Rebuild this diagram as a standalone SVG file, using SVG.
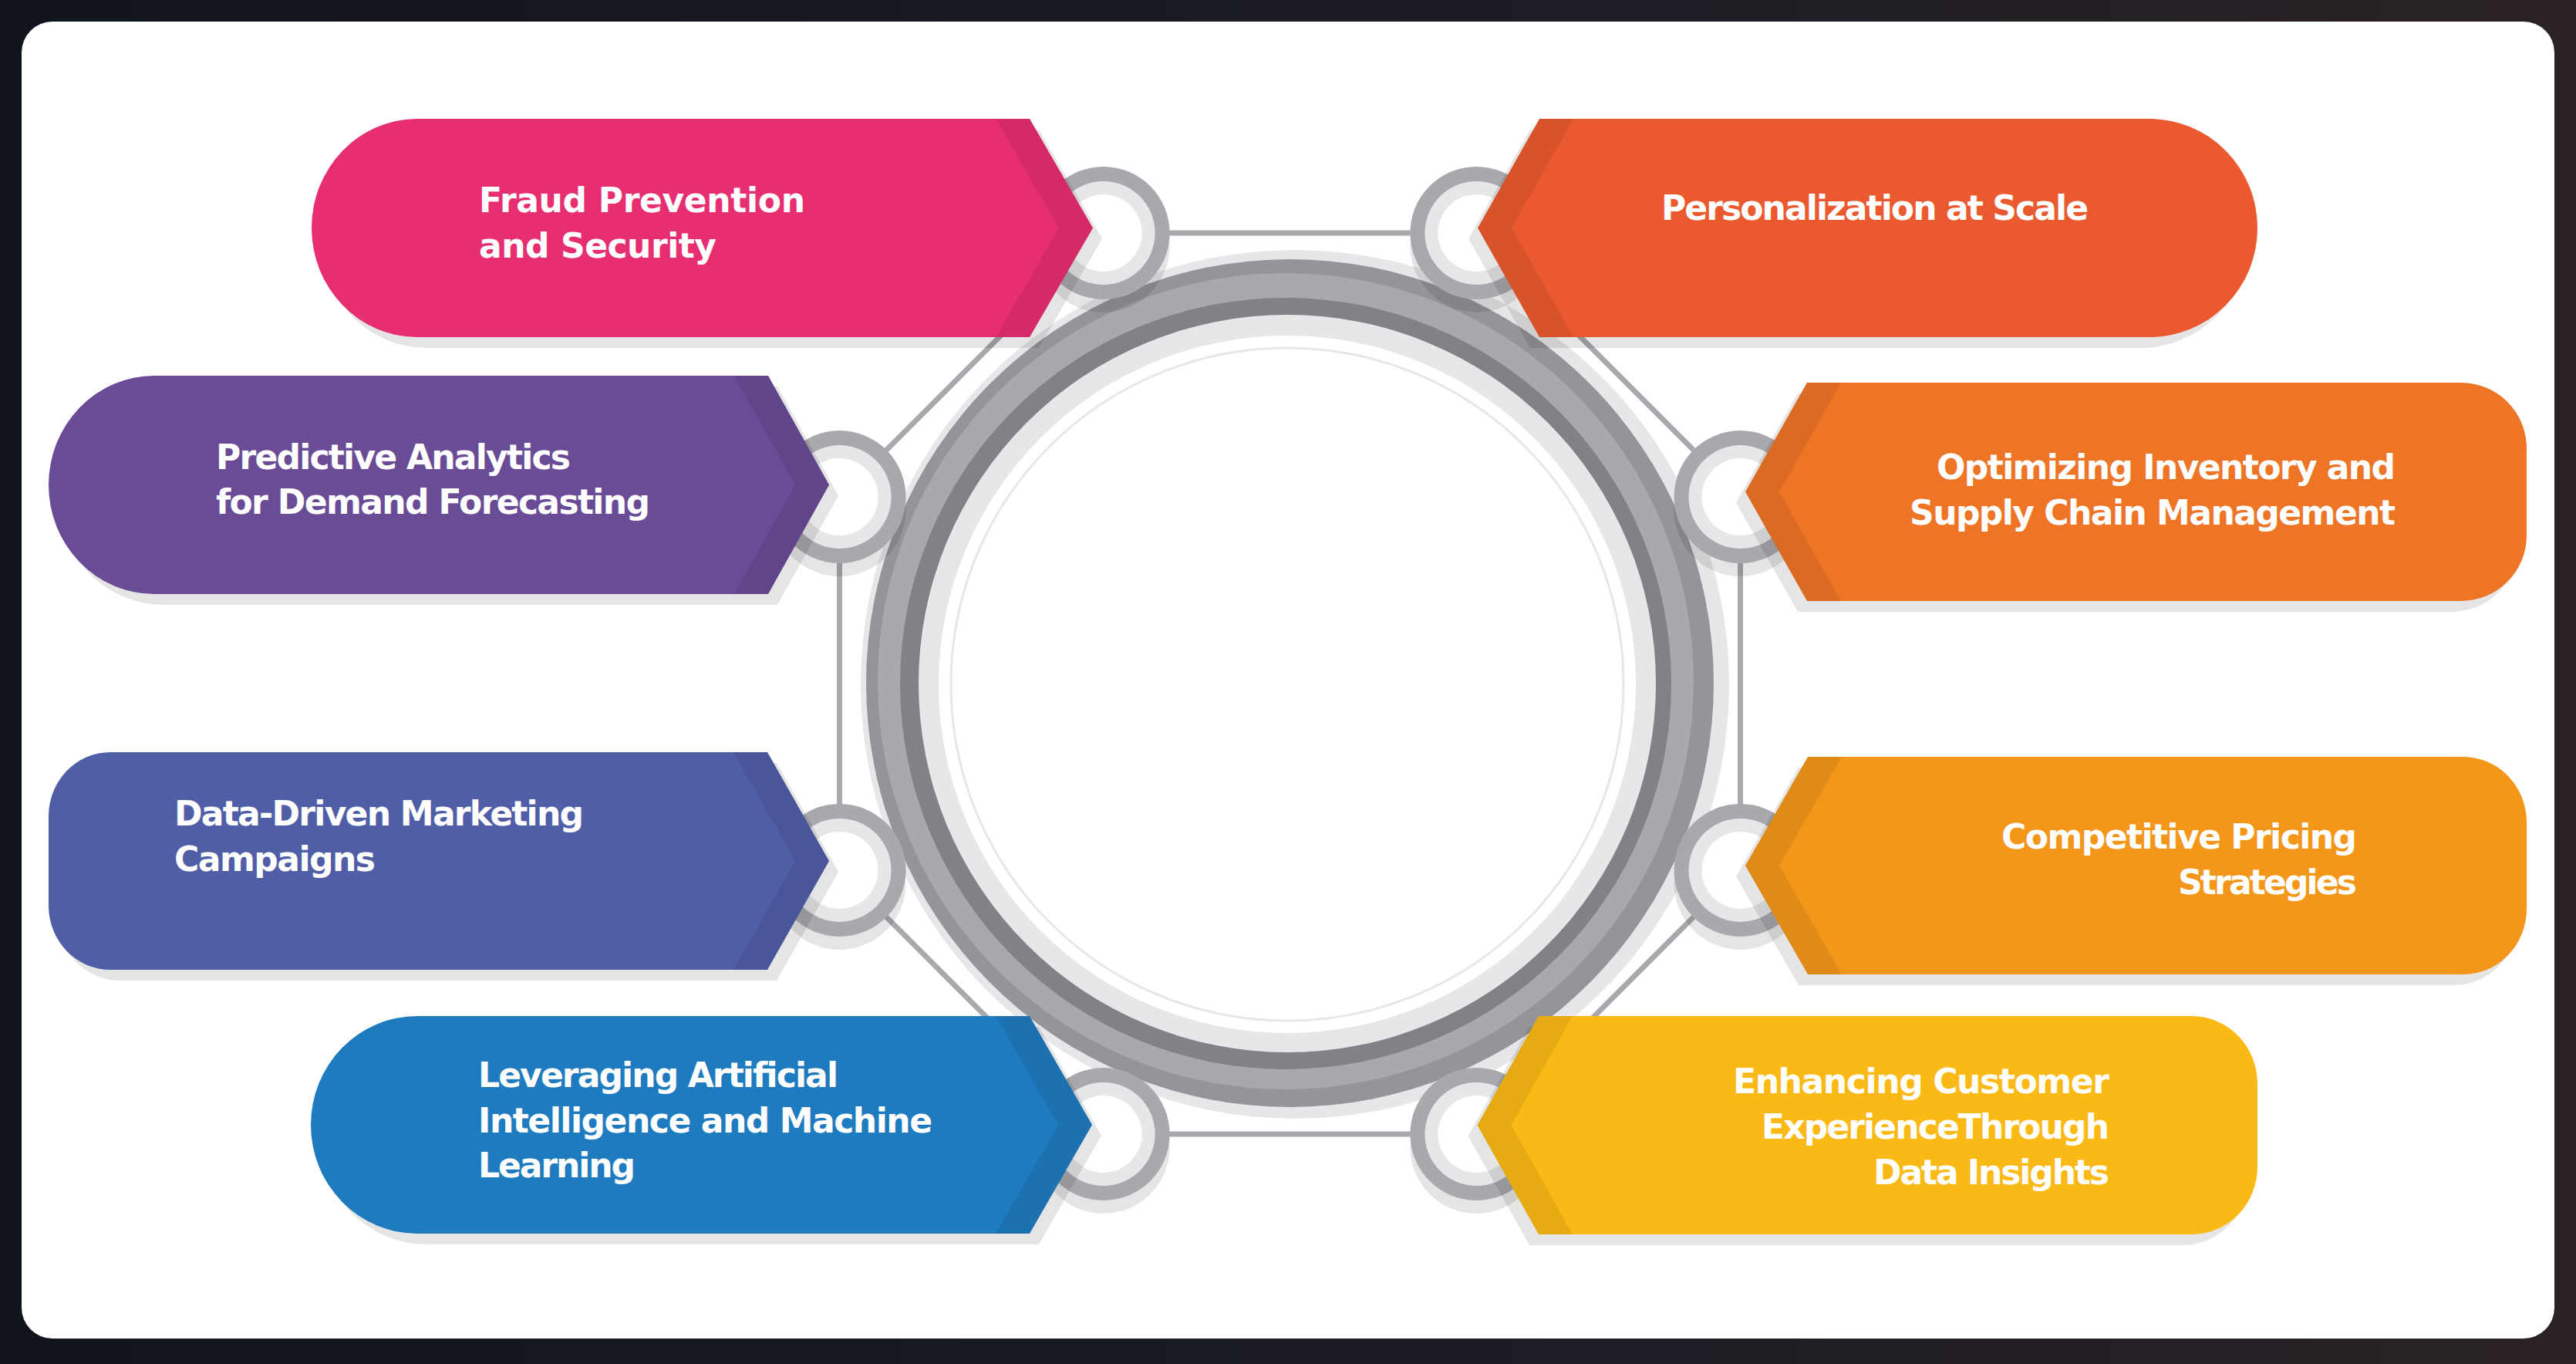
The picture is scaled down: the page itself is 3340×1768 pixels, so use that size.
<svg xmlns="http://www.w3.org/2000/svg" width="3340" height="1768" viewBox="0 0 3340 1768">
<style>
.sh{fill:#000;fill-opacity:0.1}
.band{fill:#000;fill-opacity:0.08}
.lbl{font-family:"DejaVu Sans","Liberation Sans",sans-serif;font-weight:700;font-size:44px;fill:#fff}
.end{text-anchor:end}
.conn{stroke:#a7a9ac;stroke-width:7;fill:none}
</style>
<defs>
<linearGradient id="bg" x1="0" y1="0" x2="1" y2="0">
<stop offset="0" stop-color="#10141d"/>
<stop offset="0.5" stop-color="#1a1b24"/>
<stop offset="1" stop-color="#2a2226"/>
</linearGradient>
<g id="knob">
<circle cx="0" cy="17" r="86" class="sh"/>
<circle r="86" fill="#a7a9ac"/>
<circle r="67" fill="#e6e7e8"/>
<circle r="50" fill="#fff"/>
</g>
</defs>
<rect x="0" y="0" width="3340" height="1768" fill="url(#bg)"/>
<rect x="28" y="28" width="3284" height="1707" rx="40" ry="40" fill="#fff"/>

<g id="hub">
<circle cx="1679" cy="887" r="563" fill="#e6e7e8"/>
<circle cx="1672.5" cy="885.5" r="549.5" fill="#939598"/>
<circle cx="1667" cy="883" r="529" fill="#a7a9ac"/>
<circle cx="1667" cy="886" r="500" fill="#808285"/>
<circle cx="1669" cy="886" r="478" fill="#e6e7e8"/>
<circle cx="1669" cy="887" r="452" fill="#fff"/>
<circle cx="1669" cy="887" r="436" fill="none" stroke="#e6e7e8" stroke-width="3"/>
</g>

<g id="connectors">
<line class="conn" x1="1430.6" y1="302" x2="1914.4" y2="302"/>
<line class="conn" x1="1914.4" y1="302" x2="2256.5" y2="644.1"/>
<line class="conn" x1="2256.5" y1="644.1" x2="2256.5" y2="1127.9"/>
<line class="conn" x1="2256.5" y1="1127.9" x2="1914.4" y2="1470"/>
<line class="conn" x1="1914.4" y1="1470" x2="1430.6" y2="1470"/>
<line class="conn" x1="1430.6" y1="1470" x2="1088.5" y2="1127.9"/>
<line class="conn" x1="1088.5" y1="1127.9" x2="1088.5" y2="644.1"/>
<line class="conn" x1="1088.5" y1="644.1" x2="1430.6" y2="302"/>
</g>

<g id="node-fraud">
<use href="#knob" x="1430.6" y="302"/>
<path class="sh" transform="translate(12,14)" d="M541 154 H1335 L1417 295.5 L1335 437 H541 A137 141.5 0 0 1 541 154 Z"/>
<path fill="#e72e70" d="M541 154 H1335 L1417 295.5 L1335 437 H541 A137 141.5 0 0 1 541 154 Z"/>
<path class="band" d="M1291 154 H1335 L1417 295.5 L1335 437 H1291 L1373 295.5 Z"/>
<text class="lbl" x="621" y="275" textLength="423" lengthAdjust="spacing">Fraud Prevention</text>
<text class="lbl" x="621" y="334" textLength="308" lengthAdjust="spacing">and Security</text>
</g>

<g id="node-predictive">
<use href="#knob" x="1088.5" y="644.1"/>
<path class="sh" transform="translate(12,14)" d="M200 487 H996 L1075 628.5 L996 770 H200 A137 141.5 0 0 1 200 487 Z"/>
<path fill="#6a4b96" d="M200 487 H996 L1075 628.5 L996 770 H200 A137 141.5 0 0 1 200 487 Z"/>
<path class="band" d="M952 487 H996 L1075 628.5 L996 770 H952 L1031 628.5 Z"/>
<text class="lbl" x="280" y="608" textLength="460" lengthAdjust="spacing">Predictive Analytics</text>
<text class="lbl" x="280" y="666" textLength="563" lengthAdjust="spacing">for Demand Forecasting</text>
</g>

<g id="node-datadriven">
<use href="#knob" x="1088.5" y="1127.9"/>
<path class="sh" transform="translate(12,14)" d="M143 975 H995 L1075 1116 L995 1257 H143 A80 83 0 0 1 63 1174 V1058 A80 83 0 0 1 143 975 Z"/>
<path fill="#505ea8" d="M143 975 H995 L1075 1116 L995 1257 H143 A80 83 0 0 1 63 1174 V1058 A80 83 0 0 1 143 975 Z"/>
<path class="band" d="M951 975 H995 L1075 1116 L995 1257 H951 L1031 1116 Z"/>
<text class="lbl" x="226" y="1070" textLength="531" lengthAdjust="spacing">Data-Driven Marketing</text>
<text class="lbl" x="226" y="1129" textLength="261" lengthAdjust="spacing">Campaigns</text>
</g>

<g id="node-leveraging">
<use href="#knob" x="1430.6" y="1470"/>
<path class="sh" transform="translate(12,14)" d="M541 1317 H1335 L1416 1458 L1335 1599 H541 A138 141 0 0 1 541 1317 Z"/>
<path fill="#1f7bbf" d="M541 1317 H1335 L1416 1458 L1335 1599 H541 A138 141 0 0 1 541 1317 Z"/>
<path class="band" d="M1291 1317 H1335 L1416 1458 L1335 1599 H1291 L1372 1458 Z"/>
<text class="lbl" x="620" y="1409" textLength="467" lengthAdjust="spacing">Leveraging Artificial</text>
<text class="lbl" x="620" y="1468" textLength="589" lengthAdjust="spacing">Intelligence and Machine</text>
<text class="lbl" x="620" y="1526" textLength="204" lengthAdjust="spacing">Learning</text>
</g>

<g id="node-personalization">
<use href="#knob" x="1914.4" y="302"/>
<path class="sh" transform="translate(-12,14)" d="M1996 154 H2787 A140 141.5 0 0 1 2787 437 H1996 L1916 295.5 Z"/>
<path fill="#eb592e" d="M1996 154 H2787 A140 141.5 0 0 1 2787 437 H1996 L1916 295.5 Z"/>
<path class="band" d="M1996 154 H2040 L1960 295.5 L2040 437 H1996 L1916 295.5 Z"/>
<text class="lbl" x="2154" y="285" textLength="554" lengthAdjust="spacing">Personalization at Scale</text>
</g>

<g id="node-optimizing">
<use href="#knob" x="2256.5" y="644.1"/>
<path class="sh" transform="translate(-12,14)" d="M2343 496 H3191 A85 85 0 0 1 3276 581 V694 A85 85 0 0 1 3191 779 H2343 L2263 637.5 Z"/>
<path fill="#ee7426" d="M2343 496 H3191 A85 85 0 0 1 3276 581 V694 A85 85 0 0 1 3191 779 H2343 L2263 637.5 Z"/>
<path class="band" d="M2343 496 H2387 L2307 637.5 L2387 779 H2343 L2263 637.5 Z"/>
<text class="lbl end" x="3106" y="621" textLength="595" lengthAdjust="spacing">Optimizing Inventory and</text>
<text class="lbl end" x="3106" y="680" textLength="630" lengthAdjust="spacing">Supply Chain Management</text>
</g>

<g id="node-competitive">
<use href="#knob" x="2256.5" y="1127.9"/>
<path class="sh" transform="translate(-12,14)" d="M2344 981 H3194 A82 85 0 0 1 3276 1066 V1178 A82 85 0 0 1 3194 1263 H2344 L2263 1122 Z"/>
<path fill="#f4961a" d="M2344 981 H3194 A82 85 0 0 1 3276 1066 V1178 A82 85 0 0 1 3194 1263 H2344 L2263 1122 Z"/>
<path class="band" d="M2344 981 H2388 L2307 1122 L2388 1263 H2344 L2263 1122 Z"/>
<text class="lbl end" x="3056" y="1100" textLength="461" lengthAdjust="spacing">Competitive Pricing</text>
<text class="lbl end" x="3056" y="1159" textLength="232" lengthAdjust="spacing">Strategies</text>
</g>

<g id="node-enhancing">
<use href="#knob" x="1914.4" y="1470"/>
<path class="sh" transform="translate(-12,14)" d="M1995 1317 H2842 A85 88 0 0 1 2927 1405 V1512 A85 88 0 0 1 2842 1600 H1995 L1915.5 1458.5 Z"/>
<path fill="#fab915" d="M1995 1317 H2842 A85 88 0 0 1 2927 1405 V1512 A85 88 0 0 1 2842 1600 H1995 L1915.5 1458.5 Z"/>
<path class="band" d="M1995 1317 H2039 L1959.5 1458.5 L2039 1600 H1995 L1915.5 1458.5 Z"/>
<text class="lbl end" x="2735" y="1417" textLength="488" lengthAdjust="spacing">Enhancing Customer</text>
<text class="lbl end" x="2735" y="1476" textLength="451" lengthAdjust="spacing">ExperienceThrough</text>
<text class="lbl end" x="2735" y="1535" textLength="306" lengthAdjust="spacing">Data Insights</text>
</g>
</svg>
